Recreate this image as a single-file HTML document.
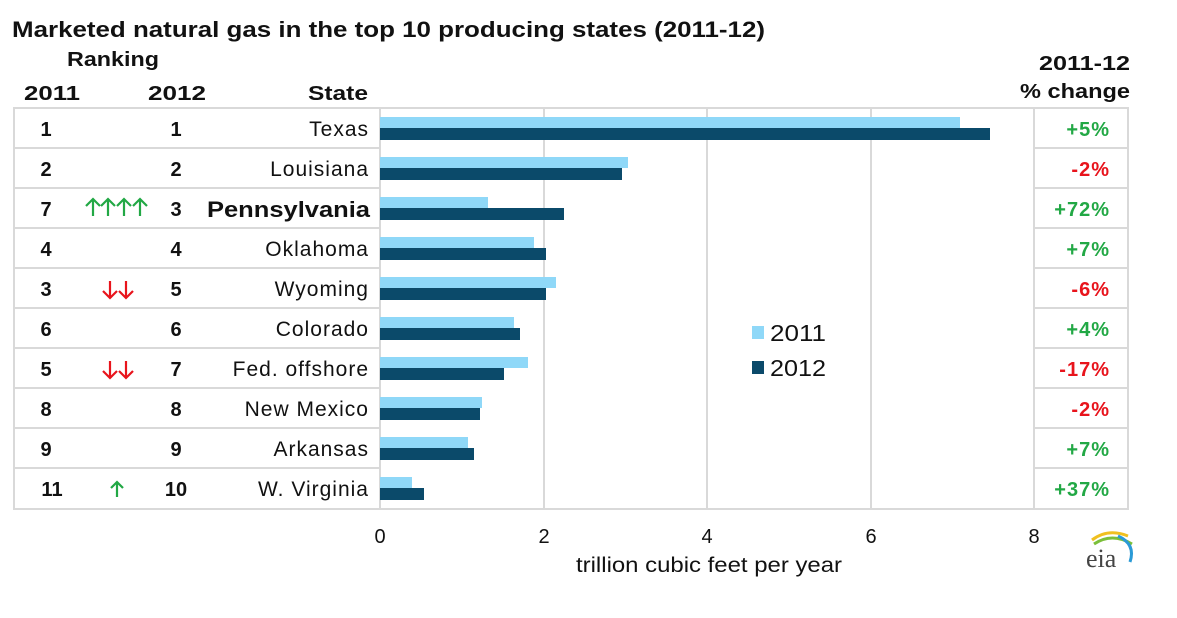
<!DOCTYPE html>
<html><head><style>
body{margin:0;background:#fff;width:1177px;height:613px;overflow:hidden;font-family:"Liberation Sans",Arial,sans-serif;}
</style></head><body>
<svg width="1177" height="613" xmlns="http://www.w3.org/2000/svg" font-family="Liberation Sans, Arial, sans-serif">
<text x="12" y="37" font-size="22" font-weight="bold" fill="#111" textLength="753" lengthAdjust="spacingAndGlyphs">Marketed natural gas in the top 10 producing states (2011-12)</text>
<text x="67" y="66" font-size="20" font-weight="bold" fill="#111" textLength="92" lengthAdjust="spacingAndGlyphs">Ranking</text>
<text x="24" y="100" font-size="20" font-weight="bold" fill="#111" textLength="56" lengthAdjust="spacingAndGlyphs">2011</text>
<text x="148" y="100" font-size="20" font-weight="bold" fill="#111" textLength="58" lengthAdjust="spacingAndGlyphs">2012</text>
<text x="308" y="100" font-size="20" font-weight="bold" fill="#111" textLength="60" lengthAdjust="spacingAndGlyphs">State</text>
<text x="1039" y="70" font-size="20" font-weight="bold" fill="#111" textLength="91" lengthAdjust="spacingAndGlyphs">2011-12</text>
<text x="1020" y="98" font-size="20" font-weight="bold" fill="#111" textLength="110" lengthAdjust="spacingAndGlyphs">% change</text>
<g stroke="#d9d9d9" stroke-width="2" fill="none">
<rect x="14" y="108" width="1114" height="401"/>
<line x1="380" y1="108" x2="380" y2="509"/>
<line x1="544" y1="108" x2="544" y2="509"/>
<line x1="707" y1="108" x2="707" y2="509"/>
<line x1="871" y1="108" x2="871" y2="509"/>
<line x1="1034" y1="108" x2="1034" y2="509"/>
<line x1="14" y1="148" x2="380" y2="148"/><line x1="1034" y1="148" x2="1128" y2="148"/>
<line x1="14" y1="188" x2="380" y2="188"/><line x1="1034" y1="188" x2="1128" y2="188"/>
<line x1="14" y1="228" x2="380" y2="228"/><line x1="1034" y1="228" x2="1128" y2="228"/>
<line x1="14" y1="268" x2="380" y2="268"/><line x1="1034" y1="268" x2="1128" y2="268"/>
<line x1="14" y1="308" x2="380" y2="308"/><line x1="1034" y1="308" x2="1128" y2="308"/>
<line x1="14" y1="348" x2="380" y2="348"/><line x1="1034" y1="348" x2="1128" y2="348"/>
<line x1="14" y1="388" x2="380" y2="388"/><line x1="1034" y1="388" x2="1128" y2="388"/>
<line x1="14" y1="428" x2="380" y2="428"/><line x1="1034" y1="428" x2="1128" y2="428"/>
<line x1="14" y1="468" x2="380" y2="468"/><line x1="1034" y1="468" x2="1128" y2="468"/>
</g>
<g>
<rect x="380" y="117" width="580" height="11" fill="#8fd8f8"/><rect x="380" y="128" width="610" height="12" fill="#0b4a6a"/>
<rect x="380" y="157" width="248" height="11" fill="#8fd8f8"/><rect x="380" y="168" width="242" height="12" fill="#0b4a6a"/>
<rect x="380" y="197" width="108" height="11" fill="#8fd8f8"/><rect x="380" y="208" width="184" height="12" fill="#0b4a6a"/>
<rect x="380" y="237" width="154" height="11" fill="#8fd8f8"/><rect x="380" y="248" width="166" height="12" fill="#0b4a6a"/>
<rect x="380" y="277" width="176" height="11" fill="#8fd8f8"/><rect x="380" y="288" width="166" height="12" fill="#0b4a6a"/>
<rect x="380" y="317" width="134" height="11" fill="#8fd8f8"/><rect x="380" y="328" width="140" height="12" fill="#0b4a6a"/>
<rect x="380" y="357" width="148" height="11" fill="#8fd8f8"/><rect x="380" y="368" width="124" height="12" fill="#0b4a6a"/>
<rect x="380" y="397" width="102" height="11" fill="#8fd8f8"/><rect x="380" y="408" width="100" height="12" fill="#0b4a6a"/>
<rect x="380" y="437" width="88" height="11" fill="#8fd8f8"/><rect x="380" y="448" width="94" height="12" fill="#0b4a6a"/>
<rect x="380" y="477" width="32" height="11" fill="#8fd8f8"/><rect x="380" y="488" width="44" height="12" fill="#0b4a6a"/>
</g>
<g font-size="20" font-weight="bold" fill="#111" text-anchor="middle">
<text x="46" y="136">1</text><text x="176" y="136">1</text>
<text x="46" y="176">2</text><text x="176" y="176">2</text>
<text x="46" y="216">7</text><text x="176" y="216">3</text>
<text x="46" y="256">4</text><text x="176" y="256">4</text>
<text x="46" y="296">3</text><text x="176" y="296">5</text>
<text x="46" y="336">6</text><text x="176" y="336">6</text>
<text x="46" y="376">5</text><text x="176" y="376">7</text>
<text x="46" y="416">8</text><text x="176" y="416">8</text>
<text x="46" y="456">9</text><text x="176" y="456">9</text>
<text x="52" y="496">11</text><text x="176" y="496">10</text>
</g>
<g font-size="21" fill="#111" text-anchor="end" letter-spacing="1">
<text x="369" y="136">Texas</text>
<text x="369" y="176">Louisiana</text>
<text x="207" y="217" font-size="22" font-weight="bold" text-anchor="start" letter-spacing="0" textLength="163" lengthAdjust="spacingAndGlyphs">Pennsylvania</text>
<text x="369" y="256">Oklahoma</text>
<text x="369" y="296">Wyoming</text>
<text x="369" y="336">Colorado</text>
<text x="369" y="376">Fed. offshore</text>
<text x="369" y="416">New Mexico</text>
<text x="369" y="456">Arkansas</text>
<text x="369" y="496">W. Virginia</text>
</g>
<g fill="none" stroke-width="2.2">
<g stroke="#22a845">
<path d="M93 216V199M86 206L93 199L100 206"/>
<path d="M108 216V199M101 206L108 199L115 206"/>
<path d="M124 216V199M117 206L124 199L131 206"/>
<path d="M140 216V199M133 206L140 199L147 206"/>
<path d="M117 497V482M111 488L117 482L123 488"/>
</g>
<g stroke="#e8141c">
<path d="M110 281V298M103 291L110 298L117 291"/>
<path d="M126 281V298M119 291L126 298L133 291"/>
<path d="M110 361V378M103 371L110 378L117 371"/>
<path d="M126 361V378M119 371L126 378L133 371"/>
</g>
</g>
<g font-size="20" font-weight="bold" text-anchor="end" letter-spacing="1">
<text x="1110" y="136" fill="#22a845">+5%</text>
<text x="1110" y="176" fill="#e8141c">-2%</text>
<text x="1110" y="216" fill="#22a845">+72%</text>
<text x="1110" y="256" fill="#22a845">+7%</text>
<text x="1110" y="296" fill="#e8141c">-6%</text>
<text x="1110" y="336" fill="#22a845">+4%</text>
<text x="1110" y="376" fill="#e8141c">-17%</text>
<text x="1110" y="416" fill="#e8141c">-2%</text>
<text x="1110" y="456" fill="#22a845">+7%</text>
<text x="1110" y="496" fill="#22a845">+37%</text>
</g>
<rect x="752" y="326" width="12" height="13" fill="#8fd8f8"/>
<text x="770" y="341" font-size="23" fill="#111" textLength="56" lengthAdjust="spacingAndGlyphs">2011</text>
<rect x="752" y="361" width="12" height="13" fill="#0b4a6a"/>
<text x="770" y="376" font-size="23" fill="#111" textLength="56" lengthAdjust="spacingAndGlyphs">2012</text>
<g font-size="20" fill="#111" text-anchor="middle">
<text x="380" y="543">0</text><text x="544" y="543">2</text><text x="707" y="543">4</text><text x="871" y="543">6</text><text x="1034" y="543">8</text>
</g>
<text x="576" y="572" font-size="21" fill="#111" textLength="266" lengthAdjust="spacingAndGlyphs">trillion cubic feet per year</text>
<path d="M1092 540 Q1108 528 1128 536" stroke="#f0c020" stroke-width="3" fill="none"/>
<path d="M1094 544 Q1112 532 1132 544" stroke="#7bbf3a" stroke-width="3" fill="none"/>
<path d="M1118 536 Q1136 544 1130 562" stroke="#2a9ad6" stroke-width="3" fill="none"/>
<text x="1086" y="567" font-size="26" font-family="Liberation Serif, serif" fill="#444">eia</text>
</svg>
</body></html>
